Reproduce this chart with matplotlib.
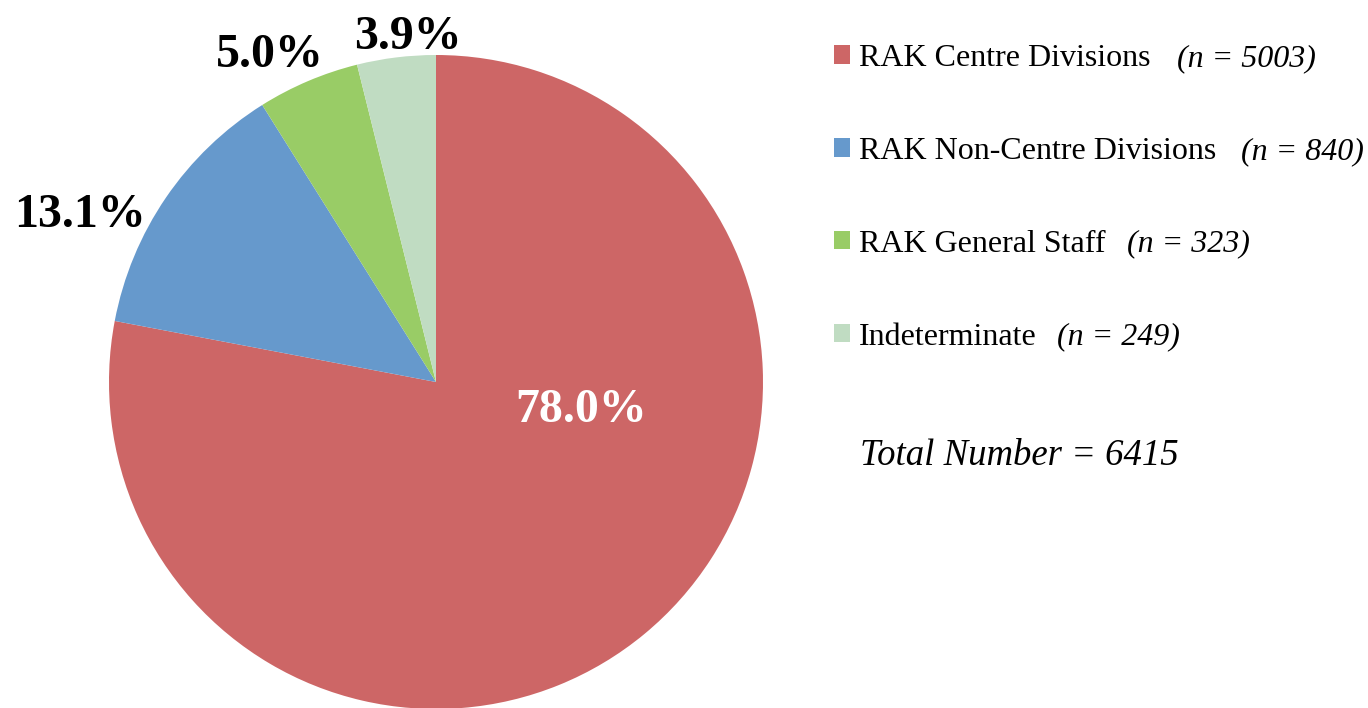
import numpy as np
import matplotlib
matplotlib.use("Agg")
import matplotlib.pyplot as plt
from matplotlib.patches import Patch

plt.rcParams['font.family'] = ['Liberation Serif', 'DejaVu Serif']

categories = ['RAK Centre Divisions', 'RAK Non-Centre Divisions',
              'RAK General Staff', 'Indeterminate']
counts = [5003, 840, 323, 249]
colors = ['#CD6666', '#6699CC', '#99CC66', '#C0DCC2']
gaps_px = [26, 25, 21, 20]

# label placement (data coords, pie radius = 1)
label_xy = [(0.445, -0.085), (-1.089, 0.51), (-0.508, 1.0), (-0.086, 1.055)]
label_colors = ['white', 'black', 'black', 'black']

total = sum(counts)
pcts = [100.0 * c / total for c in counts]

fig = plt.figure(figsize=(13.68, 7.08), dpi=100)
ax = fig.add_axes([109 / 1368, -1 / 708, 654 / 1368, 654 / 708])
ax.pie(counts, colors=colors, startangle=90, counterclock=False, radius=1,
       wedgeprops=dict(linewidth=0))
ax.set_xlim(-1, 1)
ax.set_ylim(-1, 1)
ax.axis('off')

for (x, y), p, c in zip(label_xy, pcts, label_colors):
    ax.text(x, y, f'{p:.1f}%', color=c, fontsize=34.5, fontweight='bold',
            ha='center', va='center')

handles = [Patch(facecolor=c, edgecolor='none') for c in colors]
leg = fig.legend(handles, categories, loc='upper left', bbox_to_anchor=(0.6, 0.956),
                 frameon=False, fontsize=23, handlelength=0.5, handleheight=0.5,
                 handletextpad=0.3, labelspacing=2.0, borderaxespad=0)

# italic counts after each legend entry
fig.canvas.draw()
renderer = fig.canvas.get_renderer()
for t, n, g in zip(leg.get_texts(), counts, gaps_px):
    bb = t.get_window_extent(renderer)
    fig.text((bb.x1 + g) / 1368, (bb.y0 + bb.y1) / 2 / 708, f'(n = {n})',
             fontsize=23, style='italic', ha='left', va='center')

fig.text(860 / 1368, 1 - 456 / 708, f'Total Number = {total}', fontsize=26.5,
         style='italic', ha='left', va='center')

fig.savefig('out.png', dpi=100)
